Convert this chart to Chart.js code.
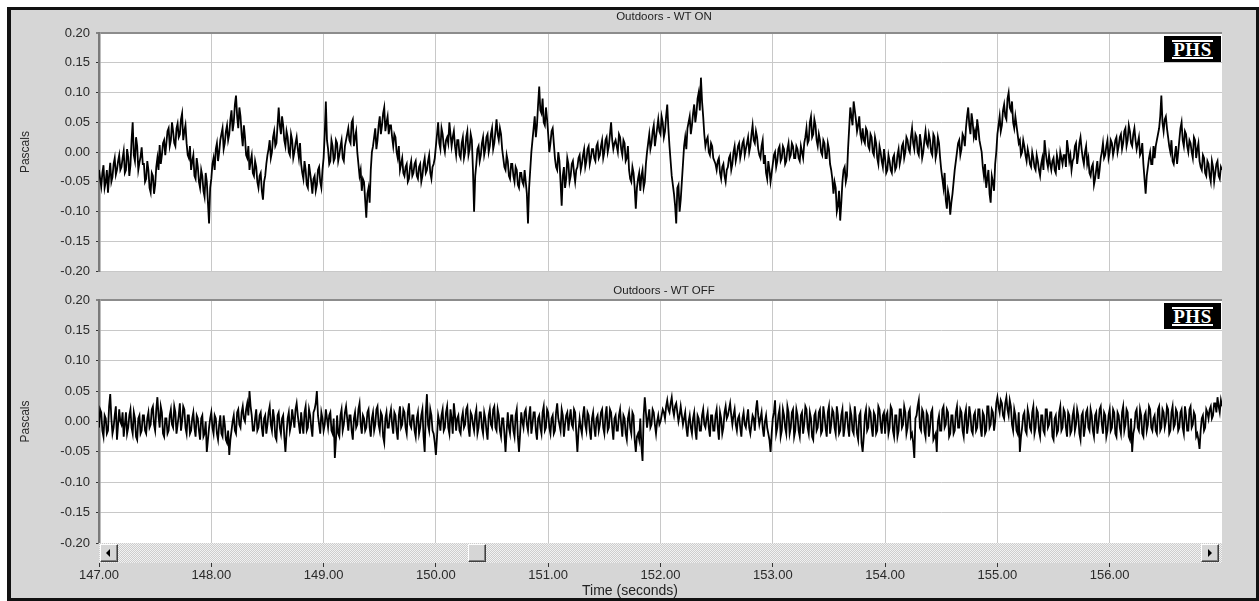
<!DOCTYPE html>
<html>
<head>
<meta charset="utf-8">
<script src="https://cdn.jsdelivr.net/npm/chart.js@4.4.1/dist/chart.umd.min.js"></script>
<style>
  html, body { margin: 0; padding: 0; background: #fff; width: 1259px; height: 601px; overflow: hidden;
    font-family: "Liberation Sans", Arial, sans-serif; }
  #frame { position: absolute; left: 7px; top: 7px; width: 1252px; height: 594px; box-sizing: border-box;
    border: 3px solid #111; border-left-width: 4px; background: #d6d6d6; }
  canvas { position: absolute; left: 0; }
  #cOn { top: 0; }
  #cOff { top: 285px; }
  .ptitle { position: absolute; left: 99px; width: 1130px; text-align: center; font-size: 11.5px;
    line-height: 14px; color: #222; }
  #xtitle { position: absolute; left: 530px; width: 200px; text-align: center; font-size: 14px;
    line-height: 14px; color: #222; top: 583px; }
  .logo { position: absolute; left: 1164px; width: 57px; height: 26px; background: #000;
    display: flex; align-items: center; justify-content: center; }
  .logo span { display: inline-block; color: #fff; font-family: "Liberation Serif", "DejaVu Serif", serif;
    font-weight: bold; font-size: 19px; line-height: 15px; border-top: 2px solid #fff; border-bottom: 2px solid #fff;
    padding: 0 1px; letter-spacing: 0.5px; }
  #scroll { position: absolute; left: 99px; top: 543px; width: 1123px; height: 20px; background-color: #f2f2f2;
    background-image: conic-gradient(#cdcdcd 25%, transparent 0 50%, #cdcdcd 0 75%, transparent 0);
    background-size: 2px 2px; }
  .btn { position: absolute; top: 1px; width: 16px; height: 16px; background: #d6d6d6; border: 1px solid;
    border-color: #fff #404040 #404040 #fff; box-shadow: inset -1px -1px 0 #808080; }
  .tri { position: absolute; top: 4px; width: 0; height: 0; border-top: 4px solid transparent;
    border-bottom: 4px solid transparent; }
</style>
</head>
<body>
<div id="frame"></div>
<canvas id="cOn" width="1259" height="285"></canvas>
<canvas id="cOff" width="1259" height="316"></canvas>
<div class="ptitle" style="top:9px">Outdoors - WT ON</div>
<div class="ptitle" style="top:283px">Outdoors - WT OFF</div>
<div class="logo" style="top:36px"><span>PHS</span></div>
<div class="logo" style="top:303px"><span>PHS</span></div>
<div id="scroll">
  <div class="btn" style="left:1px"><div class="tri" style="left:5px;border-right:4px solid #000"></div></div>
  <div class="btn" style="left:369px"></div>
  <div class="btn" style="left:1102px"><div class="tri" style="left:6px;border-left:4px solid #000"></div></div>
</div>
<div id="xtitle">Time (seconds)</div>
<script>
// Sampling: readings every 0.01 s from 147.00 s, stored as two interleaved sets
// (even hundredths and the odd hundredths between them)
const T_START = 147.0;
const T_STEP = 0.01;

// Axis ticks
const timeTicks = [147, 148, 149, 150, 151, 152, 153, 154, 155, 156];
const pressureTicks = [-0.20, -0.15, -0.10, -0.05, 0.00, 0.05, 0.10, 0.15, 0.20];

// Sound pressure, wind turbine running (Pa) - t = 147.00, 147.02, ...
const wtOnPa = [
  -.030,-.058,-.022,-.050,-.068,-.018,-.042,-.010,-.030,-.005,
  -.025,.002,-.030,-.008,-.022,.050,-.015,.010,-.018,.008,
  -.020,-.045,-.030,-.068,-.040,-.055,-.010,.012,-.005,.020,
  .015,.040,.020,.035,.010,.048,.030,.065,.035,.015,
  -.010,-.030,-.005,-.045,-.025,-.060,-.040,-.075,-.050,-.120,
  -.045,-.010,.005,-.015,.020,.040,.015,.045,.030,.070,
  .050,.095,.040,.060,.010,.025,-.010,-.030,-.005,-.040,
  -.025,-.060,-.035,-.080,-.040,-.005,.020,.000,.035,.015,
  .075,.030,.045,.010,.025,-.005,.020,.000,.025,-.010,
  -.020,-.045,-.030,-.060,-.035,-.070,-.040,-.055,-.025,-.060,
  -.010,.085,.005,-.015,.010,-.010,.015,-.005,.020,-.015,
  .020,.040,.015,.055,.025,.000,-.040,-.065,-.050,-.110,
  -.060,-.030,.010,.040,.020,.060,.045,.075,.050,.030,
  .045,.010,.025,-.010,-.030,-.010,-.040,-.020,-.045,-.015,
  -.035,-.015,-.045,-.020,-.040,-.010,-.030,-.005,-.045,-.020,
  .010,.050,.005,.030,.000,.025,.050,.010,.035,-.005,
  .020,-.010,.025,.000,.035,.005,.020,-.100,-.020,.010,
  -.005,.025,.005,.030,.010,.040,.015,.055,.020,.030,
  -.010,-.030,-.015,-.045,-.020,-.050,-.030,-.060,-.035,-.055,
  -.050,-.120,-.030,.020,.060,.045,.110,.065,.050,.075,
  .030,.015,.040,-.010,-.030,-.015,-.090,-.025,-.045,-.020,
  -.040,-.015,-.050,-.025,-.005,-.020,.005,-.015,.010,-.010,
  .005,-.015,.015,-.005,.020,.000,.025,.010,.050,.005,
  .020,.000,.025,-.005,.015,-.010,-.030,-.050,-.035,-.095,
  -.045,-.065,-.030,-.050,.000,.030,.015,.045,.025,.055,
  .030,.050,.035,.080,.010,-.040,-.070,-.120,-.055,-.080,
  -.020,.025,.040,.060,.045,.080,.065,.100,.125,.060,
  .010,.025,-.005,.010,-.015,-.030,-.010,-.045,-.020,-.050,
  -.025,-.005,-.020,.010,-.005,.015,.000,.020,.005,.025,
  .010,.045,.015,.025,-.005,.010,-.020,-.035,-.015,-.050,
  -.020,.000,-.015,.010,-.010,.005,-.015,.015,-.005,.010,
  -.010,.005,-.015,.000,.015,.040,.020,.060,.030,.045,
  .010,.020,-.005,.015,-.010,.005,-.030,-.070,-.060,-.090,
  -.115,-.050,-.025,-.040,.040,.060,.085,.055,.045,.030,
  .040,.015,.035,.005,.025,-.005,.015,-.020,.000,-.025,
  -.010,-.030,-.015,-.035,-.005,-.025,.005,-.010,.015,.000,
  .020,.000,.040,.005,.025,-.005,.015,.000,.035,.010,
  .020,-.005,.025,.000,.015,-.030,-.060,-.080,-.065,-.105,
  -.070,-.030,.000,.020,.005,.025,.040,.075,.030,.050,
  .035,.055,.020,.000,-.040,-.060,-.030,-.085,-.050,-.020,
  .030,.060,.045,.080,.055,.100,.070,.050,.060,.030,
  .020,.000,.010,-.015,-.005,-.025,-.010,-.030,-.015,-.040,
  -.010,.020,-.015,-.005,-.030,-.010,-.035,-.015,.000,-.020,
  -.005,.020,-.015,-.030,-.010,.015,-.005,.025,-.010,.000,
  -.020,-.035,-.025,-.055,-.030,-.045,-.010,.015,-.005,.020,
  .000,.015,.005,.025,.010,.030,.015,.040,.020,.035,
  .010,.040,.005,.025,.000,-.020,-.070,-.025,.000,-.020,
  -.010,.020,.040,.095,.035,.060,.025,.000,-.015,-.005,
  -.020,.020,.050,.010,.030,.000,.015,-.010,.020,.005,
  -.015,-.030,-.010,-.040,-.020,-.050,-.025,-.035,-.015,-.045,
  -.030
];
// Sound pressure, wind turbine running (Pa) - t = 147.01, 147.03, ...
const wtOnPaMid = [
  -.045,-.035,-.060,-.030,-.040,-.050,-.020,-.038,-.015,-.030,
  -.010,-.035,.005,-.040,.020,-.005,.025,-.030,-.008,-.020,
  -.050,-.015,-.060,-.035,-.070,-.025,-.030,-.020,.015,-.005,
  .035,.010,.050,.015,.040,.025,.055,.020,.045,-.005,
  .010,-.015,-.040,-.010,-.050,-.030,-.065,-.035,-.085,-.060,
  -.020,-.030,.015,.000,.030,.005,.035,.020,.055,.035,
  .080,.060,.075,.030,.045,-.005,.010,-.015,-.035,-.015,
  -.050,-.040,-.065,-.050,-.020,.005,-.010,.025,.010,.045,
  .045,.060,.020,.035,.000,.030,-.010,.015,.005,.015,
  -.035,-.015,-.055,-.020,-.050,-.045,-.065,-.030,-.050,-.030,
  .030,.020,-.020,.020,-.015,.020,-.015,.010,-.010,.010,
  .030,.020,.050,.010,.035,-.020,-.030,-.045,-.080,-.070,
  -.085,.000,.025,.005,.045,.030,.065,.035,.060,.045,
  .025,.030,.000,.010,-.020,-.035,-.025,-.050,-.025,-.040,
  -.020,-.040,-.025,-.050,-.020,-.035,-.015,-.035,-.025,-.010,
  .030,.015,.040,.010,.020,.015,.030,.025,.010,.020,
  -.005,.015,-.010,.025,-.005,.030,-.030,-.040,.005,-.015,
  .015,-.005,.025,.000,.030,.005,.035,.030,.040,.005,
  -.025,-.005,-.040,-.020,-.040,-.025,-.055,-.035,-.050,-.030,
  -.070,-.060,.000,.040,.025,.080,.070,.090,.045,.055,
  .000,.035,.015,-.025,.000,-.050,-.040,-.060,-.010,-.050,
  -.020,-.035,-.030,-.010,-.030,-.005,-.025,.005,-.020,.005,
  -.010,.010,-.010,.010,-.010,.020,.000,.030,.020,.015,
  .010,.030,.005,.020,-.015,.010,-.045,-.025,-.060,-.060,
  -.035,-.040,-.060,-.020,.015,.005,.035,.010,.040,.035,
  .060,.025,.060,.040,-.015,-.055,-.090,-.060,-.100,-.050,
  .010,.005,.050,.030,.065,.050,.090,.070,.085,.030,
  .020,.000,.015,-.010,-.020,-.015,-.035,-.025,-.040,-.030,
  -.010,-.030,.000,-.015,.010,-.010,.015,-.005,.015,.000,
  .030,.020,.035,.005,-.010,.020,-.005,-.045,-.030,-.035,
  -.005,-.025,.005,-.015,.010,-.020,.005,-.010,.015,-.010,
  .010,-.010,.010,-.010,.025,.015,.050,.025,.055,.020,
  .030,.000,.020,-.010,.015,-.020,-.045,-.050,-.100,-.065,
  -.085,-.030,-.050,.005,.075,.045,.070,.035,.060,.020,
  .020,.040,.010,.030,.000,.025,-.010,.010,-.015,.005,
  -.035,-.005,-.030,-.010,-.030,-.005,-.020,.010,-.010,.025,
  .005,.025,.015,.030,.000,.030,-.010,.020,.015,.030,
  .000,.030,-.010,.025,-.010,-.045,-.035,-.095,-.075,-.085,
  -.050,-.015,.015,-.005,.030,.010,.060,.045,.065,.025,
  .020,.040,.010,-.025,-.020,-.045,-.070,-.040,-.065,.000,
  .045,.035,.070,.060,.090,.075,.085,.040,.045,.015,
  -.005,.020,-.005,.005,-.020,.000,-.025,-.005,-.030,-.020,
  -.030,.000,-.025,-.020,-.015,-.030,-.005,-.030,-.010,-.005,
  -.025,.005,-.005,-.015,.010,-.020,.015,.005,-.020,.010,
  -.010,-.040,-.020,-.045,-.015,-.030,.000,-.010,.010,-.010,
  .020,-.005,.020,.000,.025,.005,.035,.010,.045,.015,
  .030,.020,.015,-.005,.015,-.045,-.040,-.010,-.020,.010,
  .010,.030,.060,.050,.055,.040,.010,.020,-.020,.010,
  .000,.040,.020,.035,.010,.020,.000,.025,-.010,.015,
  -.025,-.005,-.035,-.015,-.040,-.015,-.050,-.020,-.040,-.025
];

// Sound pressure, wind turbine stopped (Pa) - t = 147.00, 147.02, ...
const wtOffPa = [
  -.010,.015,-.025,.005,-.015,.045,-.020,.010,-.030,.020,
  -.005,-.025,.015,-.010,.020,-.020,.005,-.030,.010,-.015,
  .010,-.020,.015,-.005,.025,-.015,.040,-.010,.015,-.025,
  .005,-.015,.020,-.010,.015,-.005,.030,.000,.020,-.020,
  .010,-.015,.015,-.025,.005,-.030,.010,-.020,-.050,-.010,
  .015,-.020,.005,-.030,.010,-.025,-.005,-.035,-.055,-.015,
  .010,-.020,.020,-.010,.025,.000,.030,.050,.010,-.015,
  .020,-.010,.015,-.025,.010,-.005,.025,-.015,.005,-.030,
  .015,-.020,.010,-.050,.005,-.015,.020,-.010,.030,-.005,
  .015,-.020,.025,-.010,.010,-.025,.020,.050,-.005,.015,
  -.015,.020,-.010,.015,-.020,-.060,.010,-.025,.020,-.005,
  .025,-.015,.010,-.030,.015,-.005,.030,-.020,.005,-.010,
  .020,-.025,.015,-.005,.025,-.015,.010,-.035,.015,-.010,
  .020,-.020,.010,-.030,.025,-.005,.015,-.020,.030,-.010,
  .010,-.025,.015,-.010,.020,-.050,.045,-.015,.010,-.020,
  -.055,.010,-.015,.020,-.010,.025,-.020,.005,.030,-.015,
  .010,-.020,.015,-.005,.025,-.025,.010,-.015,.020,-.010,
  .015,-.020,.005,-.030,.020,-.010,.025,-.015,.010,-.025,
  .005,-.050,.015,-.020,.010,-.025,.020,-.050,.015,-.010,
  .020,-.015,.025,-.005,.015,-.030,.010,-.020,.025,-.010,
  .015,-.020,.010,-.015,.030,-.005,.020,-.025,.010,-.015,
  .020,-.010,.015,-.050,.005,-.020,.025,-.015,.010,-.030,
  .015,-.025,.010,-.005,.020,-.020,.025,-.010,.015,-.030,
  .010,-.015,.020,-.025,.005,-.030,.015,-.020,.010,-.050,
  -.020,.005,-.065,.040,-.010,.020,-.005,.015,-.020,.010,
  .000,.020,.005,.035,.015,.040,.010,.030,.000,.025,
  -.005,.015,-.025,.010,-.020,.015,-.030,.005,-.015,.020,
  -.010,.015,-.025,.010,-.015,.020,-.030,.005,-.010,.025,
  .010,.030,-.005,.020,-.015,.010,-.025,.015,-.010,.020,
  -.020,.010,-.015,.035,-.005,.015,-.025,.010,-.020,-.050,
  .005,.035,-.010,.020,-.015,.010,-.020,.015,-.010,.020,
  -.015,.010,-.025,.015,-.005,.020,-.020,.005,-.030,.015,
  -.010,.020,-.015,.010,-.025,.025,-.005,.015,-.020,.010,
  -.015,.020,-.010,.015,-.025,.010,-.020,.005,-.030,.015,
  -.050,.010,-.015,.020,-.010,.015,-.020,.025,-.005,.010,
  -.020,.015,-.010,.020,-.025,.010,-.015,.020,-.005,.015,
  -.010,.020,-.020,-.060,.010,.035,-.015,.015,-.025,.010,
  -.010,.020,-.025,-.050,.010,-.015,.025,-.005,.015,-.020,
  .010,-.015,.025,-.010,.015,-.025,.020,-.005,.010,-.020,
  .015,-.010,.020,-.025,.010,-.015,.025,-.005,.015,.000,
  .040,.015,.030,.005,.040,.010,.025,-.015,.010,-.020,
  -.050,-.010,.015,-.020,.010,-.015,.025,-.010,.015,-.025,
  .010,-.020,.020,-.005,.015,-.030,.010,-.015,.025,-.010,
  .015,-.025,.010,-.015,.020,-.005,.010,-.030,.015,-.010,
  .020,-.015,.010,-.025,.015,-.005,.025,-.020,.010,-.015,
  .020,-.010,.015,-.025,.010,-.020,.025,-.005,.015,-.030,
  -.050,-.010,.020,-.015,.010,-.025,.015,-.005,.020,-.015,
  .010,-.020,.025,-.010,.015,.000,.020,-.015,.025,-.005,
  .015,-.010,.020,-.020,.010,-.015,.025,-.005,.010,-.020,
  -.045,.005,-.015,.020,.005,.025,.010,.030,.040,.015,
  .025
];
// Sound pressure, wind turbine stopped (Pa) - t = 147.01, 147.03, ...
const wtOffPaMid = [
  .020,-.015,.010,-.020,.025,.005,-.010,.025,-.005,.000,
  .015,-.005,-.020,.010,-.010,.015,-.025,.005,-.020,.010,
  -.015,.005,-.010,.020,-.005,.020,.010,.025,-.020,.005,
  -.020,.010,-.005,.025,-.020,.010,-.015,.025,-.010,.010,
  -.020,.005,-.010,.010,-.015,.005,-.025,.000,-.030,.005,
  -.010,.010,-.020,-.005,-.020,.010,-.030,-.015,-.030,.000,
  -.015,.015,-.005,.015,.005,.020,.010,.025,-.015,.005,
  -.015,.010,-.010,.005,-.020,.015,-.005,.020,-.025,.010,
  -.010,.005,-.025,-.020,.015,-.005,.005,.020,.010,-.020,
  -.005,.015,-.015,.020,-.010,.015,.030,.010,-.020,.005,
  -.005,.005,.010,-.015,.005,-.030,-.020,.010,-.015,.015,
  .005,.010,-.015,.005,-.010,.020,-.005,.010,-.015,.015,
  -.010,.005,-.015,.020,-.005,.015,-.025,.005,-.010,.010,
  -.005,.015,-.015,.010,-.010,.020,-.010,.015,-.005,.010,
  -.015,.005,-.020,.010,-.025,.015,-.005,.020,-.015,-.035,
  -.025,.000,.010,-.015,.015,-.010,.020,-.020,.010,.005,
  -.015,.005,-.010,.020,-.010,.015,-.005,.010,-.020,.015,
  -.010,.015,-.015,.010,-.005,.020,-.010,.020,-.015,.005,
  -.020,-.015,-.010,.010,-.015,.010,-.025,-.020,.000,.015,
  -.005,.010,-.020,.015,-.015,.005,-.010,.015,-.015,.020,
  -.010,.005,-.020,.015,.005,-.015,.010,-.005,.015,.005,
  -.005,.020,-.020,-.015,-.010,.010,-.005,.015,-.015,.005,
  -.010,.005,-.015,.015,-.010,.010,-.015,.020,-.010,.005,
  -.015,.010,-.005,.010,-.020,.005,-.010,.015,-.030,-.025,
  -.030,-.040,.010,.015,.005,-.010,.020,-.005,.000,-.005,
  .010,.015,.025,.020,.030,.020,.025,.015,.010,.010,
  .005,-.010,.000,-.010,.005,-.015,.010,-.015,.010,-.005,
  .005,-.010,.010,-.015,.010,-.010,.015,-.020,.015,.005,
  .020,.010,.010,-.005,.005,-.010,.005,-.005,.005,-.010,
  -.005,.005,.020,.010,.005,-.010,.000,-.010,-.030,-.020,
  .015,-.020,.010,-.025,.020,-.010,.025,-.020,.015,-.025,
  .020,-.015,.010,-.020,.025,-.010,.015,-.025,.010,-.015,
  .015,-.020,.025,-.010,.015,-.020,.020,-.010,.025,-.020,
  .010,-.025,.015,-.010,.020,-.015,.025,-.020,.010,-.035,
  -.025,.020,-.010,.015,-.025,.010,-.015,.020,-.020,.015,
  .010,-.020,.025,-.015,.010,-.025,.020,-.010,.025,-.020,
  .015,-.025,-.035,.005,.025,-.010,.020,-.015,.015,-.025,
  .015,-.030,-.020,.000,-.015,.020,-.010,.020,-.025,.010,
  -.020,.015,-.010,.020,-.015,.010,-.020,.025,-.015,.010,
  -.015,.020,-.010,.015,-.020,.025,-.010,.020,-.015,.030,
  .025,.035,.010,.030,.020,.035,-.005,.020,-.015,.015,
  -.025,.010,-.015,.020,-.010,.015,-.020,.020,-.015,.010,
  -.015,.020,-.010,.015,-.025,.005,-.020,.015,-.015,.020,
  -.010,.015,-.020,.010,-.015,.020,-.020,.010,-.025,.015,
  -.010,.020,-.015,.010,-.020,.020,-.005,.015,-.025,.010,
  -.015,.020,-.020,.015,-.010,.015,-.015,.020,-.025,.005,
  -.020,.015,-.010,.020,-.020,.010,-.015,.025,-.010,.005,
  -.015,.020,-.015,.020,-.010,.025,-.020,.015,-.010,.020,
  -.015,.015,-.010,.025,-.015,.020,-.010,.015,-.025,-.030,
  -.015,.010,-.010,.015,.020,.005,.030,.015,.025,.035
];

const FONT = '"Liberation Sans", Arial, sans-serif';
const TEXT = '#2a2a2a';

// white plotting area behind the grid
const plotBg = {
  id: 'plotBg',
  beforeDraw(chart) {
    const { ctx, chartArea: a } = chart;
    ctx.save();
    ctx.fillStyle = '#ffffff';
    ctx.fillRect(a.left, a.top, a.right - a.left, a.bottom - a.top);
    ctx.restore();
  }
};

// merge the two interleaved reading sets into one time series
function toPoints(even, mid) {
  const pts = [];
  for (let i = 0; i < even.length; i++) {
    pts.push({ x: T_START + 2 * i * T_STEP, y: even[i] });
    if (i < mid.length) pts.push({ x: T_START + (2 * i + 1) * T_STEP, y: mid[i] });
  }
  return pts;
}

function makePanel(canvasId, even, mid, withTimeAxis, padTop, padBottom) {
  const xScale = {
    type: 'linear',
    min: 147,
    max: 157,
    afterBuildTicks: s => { s.ticks = timeTicks.map(v => ({ value: v })); },
    border: { display: false },
    grid: {
      color: '#c8c8c8',
      lineWidth: 1,
      drawTicks: withTimeAxis,
      tickLength: 24,
      tickColor: '#333',
      tickWidth: 1
    },
    ticks: {
      display: withTimeAxis,
      autoSkip: false,
      maxRotation: 0,
      padding: 1,
      color: TEXT,
      font: { family: FONT, size: 13 },
      callback: v => Number(v).toFixed(2)
    },
    afterFit: s => { s.height = withTimeAxis ? 58 : 0; }
  };
  const yScale = {
    type: 'linear',
    min: -0.2,
    max: 0.2,
    afterBuildTicks: s => { s.ticks = pressureTicks.map(v => ({ value: v })); },
    border: { display: true, color: '#7a7a7a', width: 2.5 },
    grid: {
      color: c => (c.tick && Math.abs(c.tick.value - 0.2) < 1e-9) ? '#8c8c8c' : '#c8c8c8',
      lineWidth: c => (c.tick && Math.abs(c.tick.value - 0.2) < 1e-9) ? 2 : 1,
      drawTicks: true,
      tickLength: 3,
      tickColor: '#333',
      tickWidth: 1
    },
    ticks: {
      padding: 6,
      color: TEXT,
      font: { family: FONT, size: 13 },
      callback: v => Number(v).toFixed(2)
    },
    title: {
      display: true,
      text: 'Pascals',
      color: TEXT,
      font: { family: FONT, size: 12 },
      padding: { top: 6, bottom: 0 }
    },
    afterFit: s => { s.width = 87; }
  };
  return new Chart(document.getElementById(canvasId), {
    type: 'line',
    data: {
      datasets: [{
        data: toPoints(even, mid),
        borderColor: '#000',
        borderWidth: 1.8,
        pointRadius: 0,
        tension: 0,
        fill: false
      }]
    },
    options: {
      responsive: false,
      animation: false,
      parsing: false,
      normalized: true,
      layout: { padding: { left: 12, right: 37, top: padTop, bottom: padBottom } },
      plugins: { legend: { display: false }, tooltip: { enabled: false }, title: { display: false } },
      scales: { x: xScale, y: yScale }
    },
    plugins: [plotBg]
  });
}

makePanel('cOn', wtOnPa, wtOnPaMid, false, 33, 11);
makePanel('cOff', wtOffPa, wtOffPaMid, true, 15, 0);
</script>
</body>
</html>
